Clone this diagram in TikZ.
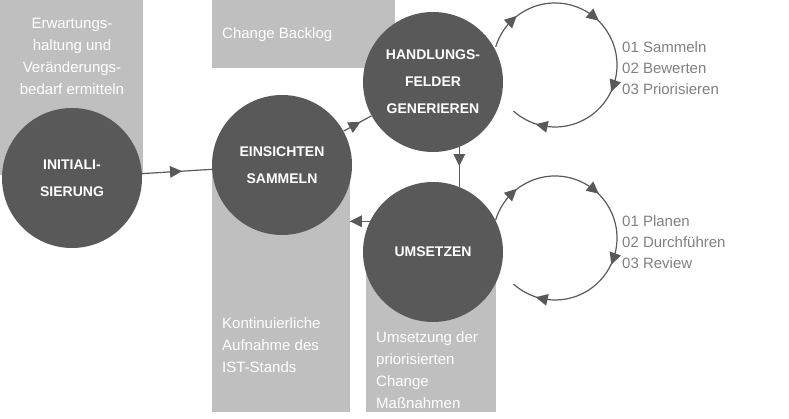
\documentclass[tikz,border=0pt]{standalone}
\usepackage{fontspec}
\setmainfont{Liberation Sans}
\usetikzlibrary{decorations.markings}
\definecolor{phase}{HTML}{595959}
\definecolor{note}{HTML}{BFBFBF}
\definecolor{listgray}{HTML}{808080}
\tikzset{
  phasenode/.style={circle, fill=phase, minimum size=140pt, inner sep=0pt, text=white,
    font=\fontsize{14}{27}\selectfont\bfseries, align=center},
  notebox/.style={fill=note, draw=none},
  notetext/.style={text=white, font=\fontsize{15}{22}\selectfont, inner sep=0pt},
  listtext/.style={text=listgray, font=\fontsize{15}{21}\selectfont, align=left, inner sep=0pt, anchor=west},
  link/.style={draw=phase, line width=1.2pt},
  midarrow/.style={postaction={decorate}, decoration={markings,
    mark=at position #1 with {\fill[phase] (5pt,0) -- (-7pt,6pt) -- (-7pt,-6pt) -- cycle;}}},
  looparrow/.style={postaction={decorate}, decoration={markings,
    mark=at position 0.1 with {\fill[phase] (6pt,0) -- (-6pt,6pt) -- (-6pt,-6pt) -- cycle;},
    mark=at position 0.38 with {\fill[phase] (6pt,0) -- (-6pt,6pt) -- (-6pt,-6pt) -- cycle;},
    mark=at position 0.62 with {\fill[phase] (6pt,0) -- (-6pt,6pt) -- (-6pt,-6pt) -- cycle;},
    mark=at position 0.9 with {\fill[phase] (6pt,0) -- (-6pt,6pt) -- (-6pt,-6pt) -- cycle;}}}
}
\begin{document}
\begin{tikzpicture}[x=1pt, y=1pt]
    \useasboundingbox (0,0) rectangle (789,419);

    % Background notes
    \fill[notebox] (0,419) rectangle (143,244);
    \fill[notebox] (212,419) rectangle (395,351);
    \fill[notebox] (212,254) rectangle (350,7);
    \fill[notebox] (366,167) rectangle (496,7);
    \node[notetext, align=center] (erwartung) at (72,363) {Erwartungs-\\haltung und\\Veränderungs-\\bedarf ermitteln};
    \node[notetext, anchor=west] (backlog) at (222,384) {Change Backlog};
    \node[notetext, align=left, anchor=north west] (aufnahme) at (222,102) {Kontinuierliche\\Aufnahme des\\IST-Stands};
    \node[notetext, align=left, anchor=north west] (umsetzung) at (376,88) {Umsetzung der\\priorisierten\\Change\\Maßnahmen};

    % Loops
    \draw[link, looparrow] (555,354) ++(163:62) arc[start angle=163, end angle=-132, radius=62];
    \draw[link, looparrow] (555,181) ++(163:62) arc[start angle=163, end angle=-132, radius=62];

    % Phases
    \node[phasenode] (init) at (72,241) {INITIALI-\\SIERUNG};
    \node[phasenode] (einsichten) at (282,254) {EINSICHTEN\\SAMMELN};
    \node[phasenode] (handlung) at (433,337) {HANDLUNGS-\\FELDER\\GENERIEREN};
    \node[phasenode] (umsetzen) at (433,167) {UMSETZEN};

    % Connectors
    \draw[link, midarrow=0.5] (init) -- (einsichten);
    \draw[link, midarrow=0.45] (einsichten) -- (handlung);
    \draw[link, midarrow=0.35] (handlung.-68) -- (umsetzen.68);
    \draw[link, midarrow=0.75] (umsetzen.154) -- ++(-20,0) coordinate (back);

    % Steps
    \node[listtext] (list1) at (622,351) {01 Sammeln\\02 Bewerten\\03 Priorisieren};
    \node[listtext] (list2) at (622,177) {01 Planen\\02 Durchführen\\03 Review};
\end{tikzpicture}
\end{document}
